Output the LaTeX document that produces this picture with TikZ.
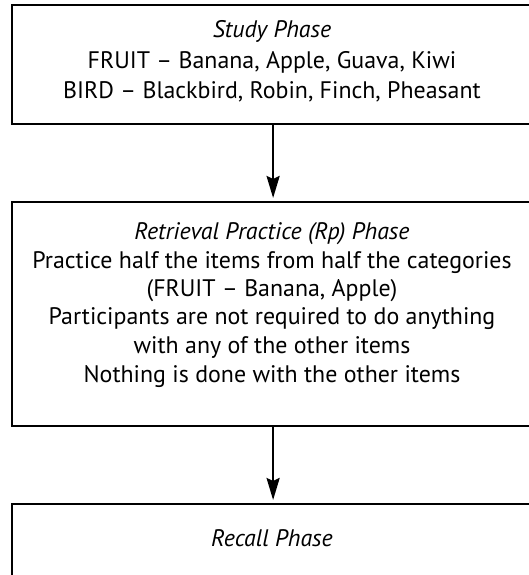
\documentclass[tikz,border=0pt]{standalone}
\usepackage{fontspec}
\setmainfont{PT Sans}
\usetikzlibrary{arrows.meta}
\begin{document}
\begin{tikzpicture}[x=1bp,y=-1bp,
  box/.style={draw, line width=2.2bp, inner sep=0pt, anchor=north west},
  txt/.style={anchor=base, inner sep=0pt, font=\fontsize{24}{28}\selectfont},
  ttl/.style={anchor=base, inner sep=0pt, font=\fontsize{24}{28}\selectfont\itshape},
  conn/.style={line width=2.4bp, -{Stealth[length=22bp,width=13bp,inset=3bp]}, shorten >=3bp}]
\useasboundingbox (0,0) rectangle (529,575);
\node[box, minimum width=522bp, minimum height=119bp] (b1) at (11,4) {};
\node[box, minimum width=522bp, minimum height=224bp] (b2) at (11,201) {};
\node[box, minimum width=522bp, minimum height=150bp] (b3) at (11,503) {};
% box 1 text
\node[ttl] (t11) at (272,38) {Study Phase};
\node[txt] (t12) at (272,69) {FRUIT – Banana, Apple, Guava, Kiwi};
\node[txt] (t13) at (272,99) {BIRD – Blackbird, Robin, Finch, Pheasant};
% box 2 text
\node[ttl] (t21) at (272,239) {Retrieval Practice (Rp) Phase};
\node[txt] (t22) at (272,268) {Practice half the items from half the categories};
\node[txt] (t23) at (272,296) {(FRUIT – Banana, Apple)};
\node[txt] (t24) at (272,324) {Participants are not required to do anything};
\node[txt] (t25) at (272,353) {with any of the other items};
\node[txt] (t26) at (272,382) {Nothing is done with the other items};
% box 3 text
\node[ttl] (t31) at (272,546) {Recall Phase};
% connectors
\draw[conn] (b1.south) -- (b2.north);
\draw[conn] (b2.south) -- (b3.north);
\end{tikzpicture}
\end{document}
